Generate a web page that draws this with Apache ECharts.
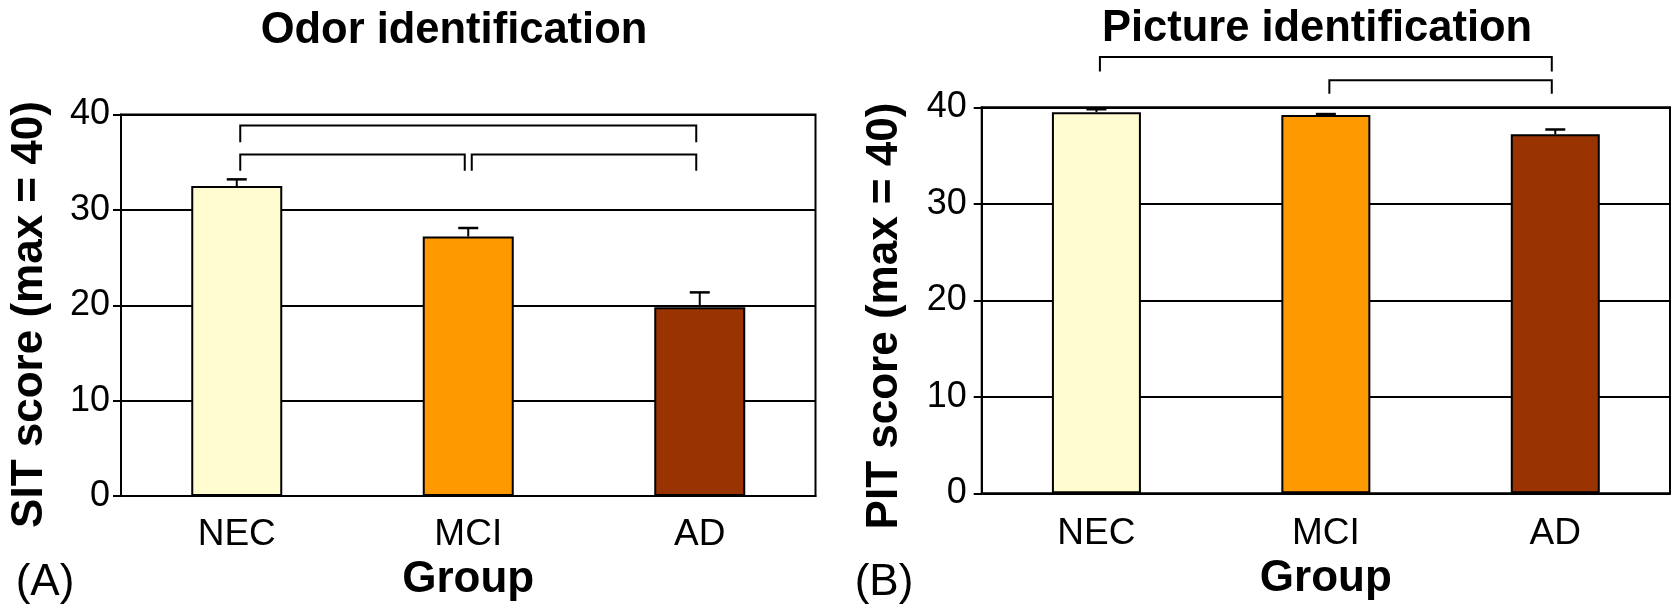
<!DOCTYPE html>
<html><head><meta charset="utf-8">
<script src="https://cdn.jsdelivr.net/npm/echarts@6/dist/echarts.min.js"></script>
<style>html,body{margin:0;padding:0;background:#fff}#c{width:1671px;height:611px}</style>
</head><body><div id="c"></div>
<script>
// ---- data ----
const categories = ['NEC', 'MCI', 'AD'];
const barColors = ['#FFFDD0', '#FF9900', '#993300'];
const yTickValues = [0, 10, 20, 30, 40];
const sitMeans = [32.5, 27.2, 19.8];
const sitErrors = [0.7, 0.9, 1.55];
const pitMeans = [39.5, 39.2, 37.2];
const pitErrors = [0.3, 0.1, 0.5];
// [fromCategory, toCategory, bracketLevel, legEnd]
const sitBrackets = [[0, 2, 38.85, 37.1], [0, 1, 35.8, 34.1], [1, 2, 35.8, 34.1]];
const pitBrackets = [[0, 2, 45.2, 43.7], [1, 2, 42.8, 41.4]];
const titles = ['Odor identification', 'Picture identification'];
const yNames = ['SIT score (max = 40)', 'PIT score (max = 40)'];
const xName = 'Group';
const panelLabels = ['(A)', '(B)'];

const FONT = '"Liberation Sans", Arial, Helvetica, sans-serif';
const yMin = yTickValues[0], yMax = yTickValues[yTickValues.length - 1];
const yStep = yTickValues[1] - yTickValues[0];

const chart = echarts.init(document.getElementById('c'), null, {renderer: 'canvas'});

function errRender(params, api) {
  const i = api.value(0), v = api.value(1), e = api.value(2);
  const p0 = api.coord([i, v]);
  const p1 = api.coord([i, v + e]);
  return {
    type: 'group', children: [
      {type: 'line', shape: {x1: p0[0], y1: p0[1], x2: p1[0], y2: p1[1]}, style: {stroke: '#000', lineWidth: 2}},
      {type: 'line', shape: {x1: p1[0] - 10, y1: p1[1], x2: p1[0] + 10, y2: p1[1]}, style: {stroke: '#000', lineWidth: 2.5}}
    ]
  };
}
function bracketRender(params, api) {
  const a = api.value(0), b = api.value(1), lvl = api.value(2), leg = api.value(3);
  const pa = api.coord([a, lvl]);
  const pb = api.coord([b, lvl]);
  const pl = api.coord([a, leg]);
  const inset = 3.5;
  const xa = pa[0] + inset, xb = pb[0] - inset;
  return {
    type: 'polyline',
    shape: {points: [[xa, pl[1]], [xa, pa[1]], [xb, pa[1]], [xb, pl[1]]]},
    style: {stroke: '#000', fill: null, lineWidth: 2}
  };
}

const grids = [
  {left: 121, top: 114.5, width: 694.5, height: 381.5},
  {left: 981.7, top: 107.3, width: 688.3, height: 386}
];
const barWidths = [91, 89];
const xLabelMargins = [20, 22];
const xNameGaps = [58.5, 61];
const yLabelMargins = [11, 15];
const means = [sitMeans, pitMeans];
const errs = [sitErrors, pitErrors];
const brackets = [sitBrackets, pitBrackets];

function txt(text, x, y, size, bold, extra) {
  return Object.assign({
    type: 'text', x: x, y: y,
    style: {text: text, fontSize: size, fontWeight: bold ? 'bold' : 'normal', fontFamily: FONT,
            fill: '#000', textAlign: 'center', textVerticalAlign: 'top'}
  }, extra || {});
}

const option = {
  animation: false,
  backgroundColor: '#fff',
  grid: grids.map(g => Object.assign({
    show: true, borderColor: '#000', borderWidth: 2, backgroundColor: 'transparent',
    containLabel: false, outerBoundsMode: 'none'
  }, g)),
  xAxis: [0, 1].map(k => ({
    type: 'category', gridIndex: k, data: categories,
    axisLine: {show: true, lineStyle: {color: '#000', width: 2}},
    axisTick: {show: false},
    axisLabel: {color: '#000', fontSize: 37, fontFamily: FONT, margin: xLabelMargins[k]},
    splitLine: {show: false},
    name: xName, nameLocation: 'middle', nameGap: xNameGaps[k],
    nameTextStyle: {color: '#000', fontSize: 44, fontWeight: 'bold', fontFamily: FONT}
  })),
  yAxis: [0, 1].map(k => ({
    type: 'value', gridIndex: k, min: yMin, max: yMax, interval: yStep,
    axisLine: {show: true, lineStyle: {color: '#000', width: 2}},
    axisTick: {show: true, inside: false, length: 8, lineStyle: {color: '#000', width: 2}},
    axisLabel: {color: '#000', fontSize: 36, fontFamily: FONT, margin: yLabelMargins[k]},
    splitLine: {show: true, lineStyle: {color: '#000', width: 2}}
  })),
  series: [].concat(...[0, 1].map(k => [
    {
      type: 'bar', xAxisIndex: k, yAxisIndex: k, barWidth: barWidths[k], z: 3,
      data: means[k].map((v, i) => ({value: v, itemStyle: {color: barColors[i], borderColor: '#000', borderWidth: 2}}))
    },
    {
      type: 'custom', xAxisIndex: k, yAxisIndex: k, z: 4, clip: false,
      renderItem: errRender, encode: {x: 0, y: 1},
      data: means[k].map((v, i) => [i, v, errs[k][i]])
    },
    {
      type: 'custom', xAxisIndex: k, yAxisIndex: k, z: 4, clip: false,
      renderItem: bracketRender, encode: {x: 0, y: 2},
      data: brackets[k]
    }
  ])),
  graphic: [
    txt(titles[0], 454, 9, 43.5, true),
    txt(titles[1], 1317, 6.5, 43.5, true),
    txt(panelLabels[0], 45, 561, 44, false),
    txt(panelLabels[1], 884, 561, 44, false),
    {type: 'text', x: 29.5, y: 314.5, rotation: Math.PI / 2,
     style: {text: yNames[0], fontSize: 44, fontWeight: 'bold', fontFamily: FONT, fill: '#000', textAlign: 'center', textVerticalAlign: 'middle'}},
    {type: 'text', x: 885, y: 316, rotation: Math.PI / 2,
     style: {text: yNames[1], fontSize: 44, fontWeight: 'bold', fontFamily: FONT, fill: '#000', textAlign: 'center', textVerticalAlign: 'middle'}}
  ]
};
chart.setOption(option);
</script>
</body></html>
